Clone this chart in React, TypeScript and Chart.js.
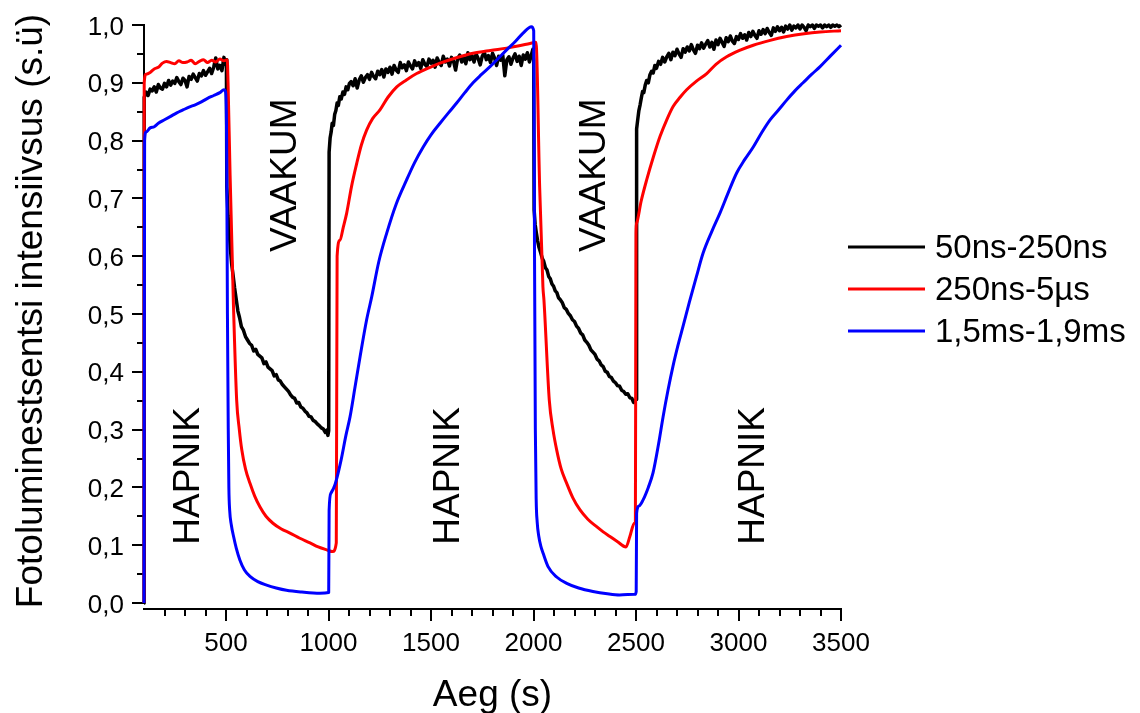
import React, { useEffect, useRef } from "react";
import { Chart, registerables } from "chart.js";

Chart.register(...registerables);

// ---------- data (x: Aeg (s), y: intensity) ----------
const series50ns: [number, number][] = [
  [100, 0], [101, 0.875], [110, 0.884], [120, 0.878], [130, 0.889], [140, 0.886], [150, 0.893], [160, 0.884],
  [170, 0.897], [180, 0.891], [190, 0.889], [200, 0.899], [210, 0.893], [220, 0.904], [230, 0.896], [240, 0.903],
  [250, 0.899], [260, 0.909], [270, 0.902], [280, 0.897], [290, 0.908], [300, 0.904], [310, 0.893], [320, 0.911],
  [330, 0.906], [340, 0.915], [350, 0.909], [360, 0.903], [370, 0.916], [380, 0.912], [390, 0.921], [400, 0.913],
  [410, 0.919], [420, 0.925], [430, 0.916], [440, 0.927], [450, 0.943], [460, 0.924], [470, 0.93], [480, 0.921],
  [490, 0.944], [497, 0.932], [502, 0.94],
  [504, 0.72], [510, 0.67], [516, 0.64], [522, 0.61], [528, 0.585], [535, 0.566], [542, 0.545], [550, 0.525],
  [558, 0.505], [566, 0.494], [575, 0.478], [585, 0.472], [595, 0.461], [605, 0.455], [615, 0.449], [625, 0.446],
  [635, 0.436], [645, 0.439], [655, 0.43], [665, 0.427], [675, 0.424], [685, 0.414], [695, 0.417], [705, 0.408],
  [715, 0.405], [725, 0.402], [735, 0.393], [745, 0.395], [755, 0.386], [765, 0.384], [775, 0.378], [785, 0.374],
  [795, 0.37], [805, 0.366], [815, 0.36], [825, 0.356], [835, 0.354], [845, 0.346], [855, 0.347], [865, 0.339],
  [875, 0.337], [885, 0.332], [895, 0.329], [905, 0.323], [915, 0.322], [925, 0.316], [935, 0.314], [945, 0.31],
  [955, 0.307], [965, 0.303], [975, 0.301], [985, 0.295], [992, 0.299], [997, 0.29], [1001, 0.298],
  [1003, 0.78], [1008, 0.805], [1013, 0.815], [1018, 0.83], [1024, 0.826], [1030, 0.845], [1036, 0.852], [1042, 0.865],
  [1048, 0.861], [1055, 0.876], [1062, 0.872], [1070, 0.884], [1078, 0.88], [1086, 0.893], [1094, 0.888], [1102, 0.899],
  [1110, 0.902], [1120, 0.895], [1130, 0.907], [1140, 0.891], [1150, 0.905], [1160, 0.912], [1170, 0.901], [1180, 0.909],
  [1190, 0.914], [1200, 0.906], [1210, 0.918], [1220, 0.911], [1230, 0.907], [1240, 0.92], [1250, 0.914], [1260, 0.923],
  [1270, 0.91], [1280, 0.924], [1290, 0.918], [1300, 0.927], [1310, 0.915], [1320, 0.93], [1330, 0.922], [1340, 0.918],
  [1350, 0.935], [1360, 0.926], [1370, 0.931], [1380, 0.921], [1390, 0.936], [1400, 0.929], [1410, 0.924], [1420, 0.938],
  [1430, 0.93], [1440, 0.935], [1450, 0.925], [1460, 0.94], [1470, 0.932], [1480, 0.928], [1490, 0.941], [1500, 0.934],
  [1510, 0.939], [1520, 0.927], [1530, 0.943], [1540, 0.935], [1550, 0.93], [1560, 0.946], [1570, 0.936], [1580, 0.941],
  [1590, 0.929], [1600, 0.944], [1610, 0.937], [1620, 0.922], [1630, 0.942], [1640, 0.948], [1650, 0.936], [1660, 0.944],
  [1670, 0.933], [1680, 0.952], [1690, 0.94], [1700, 0.947], [1710, 0.936], [1720, 0.95], [1730, 0.942], [1740, 0.931],
  [1750, 0.946], [1760, 0.953], [1770, 0.94], [1780, 0.947], [1790, 0.935], [1800, 0.951], [1810, 0.943], [1820, 0.93],
  [1830, 0.946], [1840, 0.939], [1850, 0.948], [1860, 0.912], [1870, 0.94], [1880, 0.945], [1890, 0.932], [1900, 0.943],
  [1910, 0.95], [1920, 0.937], [1930, 0.946], [1940, 0.93], [1950, 0.948], [1960, 0.941], [1970, 0.952], [1980, 0.936],
  [1990, 0.949], [1997, 0.958], [2001, 0.94],
  [2003, 0.68], [2008, 0.655], [2014, 0.64], [2020, 0.627], [2027, 0.615], [2035, 0.606], [2043, 0.596], [2050, 0.591],
  [2058, 0.58], [2066, 0.576], [2074, 0.565], [2082, 0.561], [2090, 0.552], [2098, 0.548], [2106, 0.54], [2114, 0.537],
  [2122, 0.528], [2130, 0.525], [2140, 0.52], [2150, 0.511], [2160, 0.508], [2170, 0.501], [2180, 0.497], [2190, 0.49],
  [2200, 0.487], [2210, 0.479], [2220, 0.475], [2230, 0.467], [2240, 0.464], [2250, 0.455], [2260, 0.451], [2270, 0.446],
  [2280, 0.438], [2290, 0.434], [2300, 0.43], [2310, 0.422], [2320, 0.419], [2330, 0.412], [2340, 0.409], [2350, 0.401],
  [2360, 0.399], [2370, 0.392], [2380, 0.39], [2390, 0.384], [2400, 0.381], [2410, 0.376], [2420, 0.375], [2430, 0.368],
  [2440, 0.366], [2450, 0.361], [2460, 0.362], [2470, 0.355], [2480, 0.354], [2488, 0.347], [2495, 0.349], [2500, 0.352],
  [2503, 0.82], [2508, 0.835], [2514, 0.852], [2520, 0.862], [2526, 0.874], [2532, 0.885], [2538, 0.883], [2545, 0.896],
  [2552, 0.904], [2560, 0.9], [2568, 0.914], [2576, 0.92], [2584, 0.917], [2592, 0.93], [2600, 0.925], [2610, 0.937],
  [2620, 0.932], [2630, 0.944], [2640, 0.936], [2650, 0.945], [2660, 0.951], [2670, 0.94], [2680, 0.953], [2690, 0.947],
  [2700, 0.958], [2710, 0.95], [2720, 0.944], [2730, 0.959], [2740, 0.953], [2750, 0.962], [2760, 0.955], [2770, 0.966],
  [2780, 0.957], [2790, 0.951], [2800, 0.965], [2810, 0.959], [2820, 0.969], [2830, 0.96], [2840, 0.967], [2850, 0.973],
  [2860, 0.962], [2870, 0.97], [2880, 0.958], [2890, 0.974], [2900, 0.966], [2910, 0.977], [2920, 0.97], [2930, 0.963],
  [2940, 0.978], [2950, 0.971], [2960, 0.981], [2970, 0.972], [2980, 0.968], [2990, 0.98], [3000, 0.975], [3010, 0.985],
  [3020, 0.977], [3030, 0.983], [3040, 0.974], [3050, 0.987], [3060, 0.98], [3070, 0.989], [3080, 0.982], [3090, 0.977],
  [3100, 0.99], [3110, 0.984], [3120, 0.992], [3130, 0.985], [3140, 0.994], [3150, 0.987], [3160, 0.982], [3170, 0.995],
  [3180, 0.989], [3190, 0.997], [3200, 0.99], [3210, 0.996], [3220, 0.988], [3230, 0.998], [3240, 0.993], [3250, 1.0],
  [3260, 0.991], [3270, 0.998], [3280, 0.995], [3290, 1.0], [3300, 0.993], [3310, 1.0], [3320, 0.996], [3330, 0.99],
  [3340, 1.0], [3350, 0.997], [3360, 1.0], [3370, 0.994], [3380, 1.0], [3390, 0.998], [3400, 1.0], [3410, 0.995],
  [3420, 1.0], [3430, 0.997], [3440, 1.0], [3450, 0.996], [3460, 1.0], [3470, 0.998], [3480, 1.0], [3490, 0.997],
  [3500, 1.0],
];

const series250ns: [number, number][] = [
  [100, 0], [101, 0.9], [110, 0.915], [130, 0.918], [150, 0.924], [170, 0.927], [190, 0.934], [210, 0.937],
  [230, 0.935], [250, 0.933], [270, 0.938], [290, 0.935], [310, 0.936], [330, 0.939], [350, 0.933], [370, 0.937],
  [390, 0.94], [410, 0.935], [430, 0.939], [450, 0.936], [470, 0.941], [490, 0.938], [506, 0.94], [510, 0.9],
  [520, 0.74], [536, 0.52], [552, 0.351], [565, 0.3], [577, 0.265], [595, 0.232], [617, 0.207], [640, 0.185],
  [666, 0.166], [695, 0.15], [729, 0.138], [770, 0.128], [812, 0.121], [860, 0.112], [910, 0.104], [950, 0.097],
  [991, 0.092], [1020, 0.089], [1038, 0.104], [1042, 0.6], [1056, 0.628], [1072, 0.65], [1089, 0.675], [1112, 0.72],
  [1138, 0.761], [1160, 0.792], [1186, 0.818], [1215, 0.838], [1251, 0.853], [1290, 0.875], [1333, 0.893], [1380, 0.905],
  [1430, 0.916], [1490, 0.926], [1544, 0.934], [1620, 0.943], [1705, 0.951], [1790, 0.956], [1869, 0.96], [1930, 0.964],
  [1983, 0.968], [2012, 0.97], [2030, 0.72], [2046, 0.547], [2051, 0.524], [2077, 0.351], [2095, 0.3], [2113, 0.265],
  [2135, 0.232], [2162, 0.207], [2192, 0.182], [2227, 0.161], [2265, 0.145], [2308, 0.132], [2340, 0.123], [2373, 0.115],
  [2410, 0.106], [2451, 0.097], [2470, 0.115], [2492, 0.138], [2497, 0.14], [2500, 0.64], [2503, 0.657], [2525, 0.695],
  [2552, 0.732], [2585, 0.772], [2617, 0.807], [2650, 0.836], [2681, 0.859], [2715, 0.875], [2747, 0.888], [2795, 0.903],
  [2845, 0.916], [2890, 0.932], [2942, 0.945], [3005, 0.956], [3072, 0.965], [3150, 0.973], [3235, 0.98], [3320, 0.985],
  [3398, 0.988], [3500, 0.99],
];

const series15ms: [number, number][] = [
  [100, 0], [103, 0.8], [110, 0.815], [130, 0.822], [150, 0.824], [170, 0.83], [200, 0.836], [230, 0.842],
  [260, 0.848], [290, 0.853], [320, 0.858], [350, 0.862], [380, 0.867], [410, 0.873], [440, 0.878], [470, 0.883],
  [490, 0.888], [498, 0.884], [503, 0.8], [507, 0.5], [511, 0.3], [514, 0.2], [518, 0.16], [526, 0.135],
  [537, 0.115], [550, 0.095], [568, 0.074], [590, 0.057], [617, 0.046], [655, 0.037], [698, 0.031], [745, 0.026],
  [795, 0.022], [870, 0.019], [958, 0.017], [1001, 0.018], [1003, 0.16], [1012, 0.19], [1032, 0.205], [1060, 0.245],
  [1085, 0.29], [1105, 0.322], [1130, 0.375], [1154, 0.426], [1186, 0.49], [1211, 0.53], [1245, 0.59], [1284, 0.64],
  [1330, 0.69], [1381, 0.732], [1420, 0.762], [1462, 0.789], [1500, 0.81], [1544, 0.83], [1585, 0.848], [1625, 0.865],
  [1665, 0.883], [1705, 0.9], [1745, 0.914], [1788, 0.928], [1830, 0.943], [1869, 0.957], [1910, 0.971], [1949, 0.986],
  [1990, 0.997], [2001, 0.99], [2005, 0.6], [2009, 0.3], [2013, 0.18], [2018, 0.14], [2026, 0.115], [2036, 0.098],
  [2047, 0.086], [2071, 0.063], [2113, 0.045], [2162, 0.034], [2220, 0.026], [2290, 0.02], [2360, 0.016], [2420, 0.014],
  [2495, 0.015], [2501, 0.02], [2503, 0.155], [2515, 0.168], [2534, 0.178], [2560, 0.2], [2583, 0.225], [2610, 0.275],
  [2632, 0.322], [2656, 0.368], [2680, 0.409], [2705, 0.446], [2729, 0.478], [2760, 0.52], [2795, 0.565], [2827, 0.605],
  [2870, 0.643], [2910, 0.675], [2950, 0.71], [2991, 0.744], [3030, 0.767], [3072, 0.789], [3115, 0.815], [3154, 0.836],
  [3195, 0.853], [3235, 0.87], [3275, 0.886], [3315, 0.9], [3355, 0.914], [3398, 0.928], [3450, 0.947], [3500, 0.965],
];

const seriesNames = ["50ns-250ns", "250ns-5µs", "1,5ms-1,9ms"];
const seriesColors = ["#000000", "#ff0000", "#0000ff"];
const seriesSmooth = [false, true, true];
const seriesWidths = [3.5, 3, 3];

const X_MIN = 100;
const X_MAX = 3500;
const Y_MIN = 0;
const Y_MAX = 1;

const xMajorTicks = [500, 1000, 1500, 2000, 2500, 3000, 3500];
const xTickLabels = ["500", "1000", "1500", "2000", "2500", "3000", "3500"];
const xMinorTicks = [
  200, 300, 400, 600, 700, 800, 900, 1100, 1200, 1300, 1400, 1600, 1700, 1800, 1900,
  2100, 2200, 2300, 2400, 2600, 2700, 2800, 2900, 3100, 3200, 3300, 3400,
];
const yMajorTicks = [0, 0.1, 0.2, 0.3, 0.4, 0.5, 0.6, 0.7, 0.8, 0.9, 1.0];
const yTickLabels = ["0,0", "0,1", "0,2", "0,3", "0,4", "0,5", "0,6", "0,7", "0,8", "0,9", "1,0"];
const yMinorTicks = [0.05, 0.15, 0.25, 0.35, 0.45, 0.55, 0.65, 0.75, 0.85, 0.95];

const xTitle = "Aeg (s)";
const yTitle = "Fotoluminestsentsi intensiivsus (s.ü)";

const annotationTexts = ["HAPNIK", "VAAKUM", "HAPNIK", "VAAKUM", "HAPNIK"];
const annotationX = [307, 776, 1571, 2283, 3063];
const annotationY = [0.22, 0.74, 0.22, 0.74, 0.22];

const FONT = "'Liberation Sans', Arial, Helvetica, sans-serif";

const axesPlugin = {
  id: "originAxes",
  beforeDatasetsDraw(chart: any) {
    const { ctx, chartArea } = chart;
    const xs = chart.scales.x;
    const ys = chart.scales.y;
    const xAxisY = chartArea.bottom + 6;
    const yAxisX = chartArea.left;
    ctx.save();
    ctx.strokeStyle = "#000";
    ctx.fillStyle = "#000";
    ctx.lineWidth = 2;
    ctx.lineCap = "square";

    // y axis
    ctx.beginPath();
    ctx.moveTo(yAxisX, ys.getPixelForValue(Y_MIN));
    ctx.lineTo(yAxisX, ys.getPixelForValue(Y_MAX));
    ctx.stroke();
    ctx.lineCap = "butt";
    yMajorTicks.forEach((v) => {
      const py = Math.round(ys.getPixelForValue(v));
      ctx.beginPath();
      ctx.moveTo(yAxisX, py);
      ctx.lineTo(yAxisX - 12, py);
      ctx.stroke();
    });
    yMinorTicks.forEach((v) => {
      const py = Math.round(ys.getPixelForValue(v));
      ctx.beginPath();
      ctx.moveTo(yAxisX, py);
      ctx.lineTo(yAxisX - 7, py);
      ctx.stroke();
    });
    ctx.font = `26px ${FONT}`;
    ctx.textAlign = "right";
    ctx.textBaseline = "alphabetic";
    yMajorTicks.forEach((v, i) => {
      const py = ys.getPixelForValue(v);
      ctx.fillText(yTickLabels[i], yAxisX - 20, py + 9.5);
    });

    // x axis
    ctx.lineCap = "square";
    ctx.beginPath();
    ctx.moveTo(xs.getPixelForValue(X_MIN), xAxisY);
    ctx.lineTo(xs.getPixelForValue(X_MAX), xAxisY);
    ctx.stroke();
    ctx.lineCap = "butt";
    xMajorTicks.forEach((v) => {
      const px = Math.round(xs.getPixelForValue(v));
      ctx.beginPath();
      ctx.moveTo(px, xAxisY);
      ctx.lineTo(px, xAxisY + 12);
      ctx.stroke();
    });
    xMinorTicks.forEach((v) => {
      const px = Math.round(xs.getPixelForValue(v));
      ctx.beginPath();
      ctx.moveTo(px, xAxisY);
      ctx.lineTo(px, xAxisY + 7);
      ctx.stroke();
    });
    ctx.textAlign = "center";
    xMajorTicks.forEach((v, i) => {
      const px = xs.getPixelForValue(v);
      ctx.fillText(xTickLabels[i], px, xAxisY + 42);
    });

    // axis titles
    ctx.font = `37px ${FONT}`;
    ctx.textAlign = "center";
    ctx.fillText(xTitle, (chartArea.left + chartArea.right) / 2, xAxisY + 97);
    ctx.save();
    ctx.translate(42, (chartArea.top + chartArea.bottom) / 2 - 3);
    ctx.rotate(-Math.PI / 2);
    ctx.fillText(yTitle, 0, 0);
    ctx.restore();
    ctx.restore();
  },
  afterDatasetsDraw(chart: any) {
    const { ctx, chartArea } = chart;
    const xs = chart.scales.x;
    const ys = chart.scales.y;
    ctx.save();
    ctx.fillStyle = "#000";
    // rotated annotations
    ctx.font = `37px ${FONT}`;
    ctx.textAlign = "center";
    ctx.textBaseline = "alphabetic";
    annotationTexts.forEach((t, i) => {
      ctx.save();
      ctx.translate(xs.getPixelForValue(annotationX[i]), ys.getPixelForValue(annotationY[i]));
      ctx.rotate(-Math.PI / 2);
      ctx.fillText(t, 0, 13);
      ctx.restore();
    });

    // legend
    const lx0 = chartArea.right + 7;
    const lx1 = chartArea.right + 84;
    const ly0 = 247;
    const lstep = 42;
    ctx.font = `33px ${FONT}`;
    ctx.textAlign = "left";
    seriesNames.forEach((name, i) => {
      const ly = ly0 + i * lstep;
      ctx.strokeStyle = seriesColors[i];
      ctx.lineWidth = 3;
      ctx.beginPath();
      ctx.moveTo(lx0, ly);
      ctx.lineTo(lx1, ly);
      ctx.stroke();
      ctx.fillStyle = "#000";
      ctx.fillText(name, lx1 + 10, ly + 11);
    });
    ctx.restore();
  },
};

export default function App() {
  const canvasRef = useRef<HTMLCanvasElement | null>(null);

  useEffect(() => {
    document.body.style.margin = "0";
    const canvas = canvasRef.current;
    if (!canvas) return;
    const all = [series50ns, series250ns, series15ms];
    const chart = new Chart(canvas, {
      type: "line",
      data: {
        datasets: all.map((s, i) => ({
          label: seriesNames[i],
          data: s.map(([x, y]) => ({ x, y })),
          borderColor: seriesColors[i],
          backgroundColor: seriesColors[i],
          borderWidth: seriesWidths[i],
          borderJoinStyle: "round" as any,
          pointRadius: 0,
          tension: 0,
          cubicInterpolationMode: seriesSmooth[i] ? "monotone" : "default",
          fill: false,
          clip: false as any,
          order: 3 - i,
        })),
      },
      options: {
        responsive: false,
        animation: false,
        devicePixelRatio: 1,
        layout: { padding: { left: 144, right: 299, top: 25, bottom: 110 } },
        scales: {
          x: { type: "linear", min: X_MIN, max: X_MAX, display: false },
          y: { type: "linear", min: Y_MIN, max: Y_MAX, display: false },
        },
        plugins: { legend: { display: false }, tooltip: { enabled: false } },
        events: [],
      },
      plugins: [axesPlugin],
    });
    return () => chart.destroy();
  }, []);

  return (
    <div style={{ width: 1140, height: 713, background: "#fff" }}>
      <canvas ref={canvasRef} width={1140} height={713} style={{ display: "block" }} />
    </div>
  );
}
